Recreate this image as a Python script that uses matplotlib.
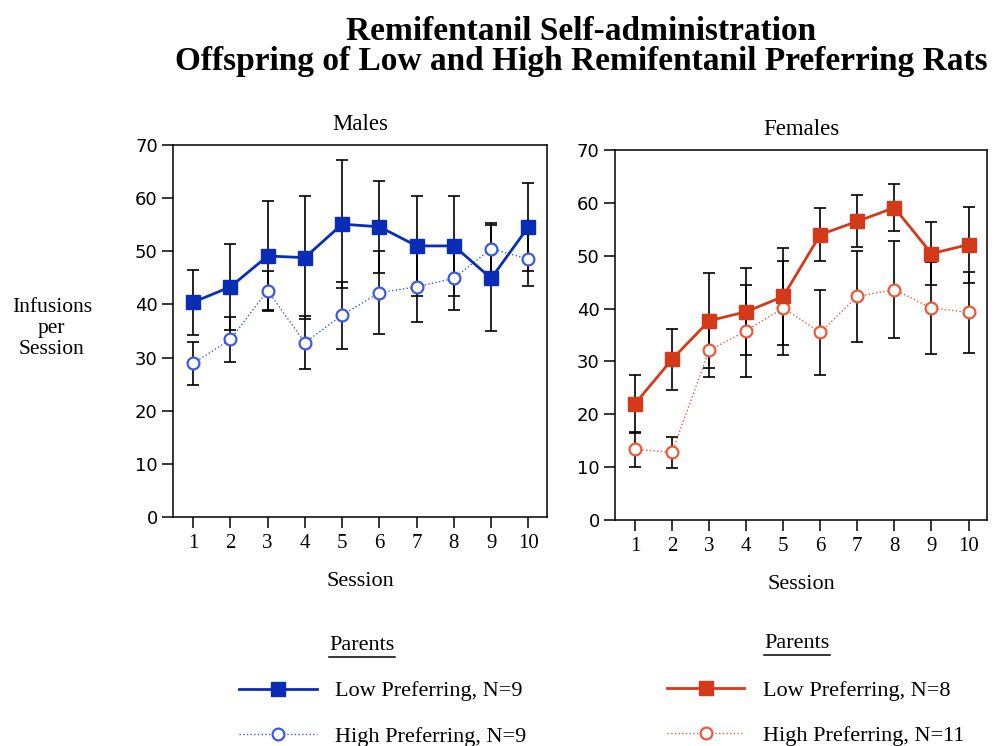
import numpy as np
import matplotlib
matplotlib.use("Agg")
from matplotlib import pyplot as plt
from matplotlib.lines import Line2D

plt.rcParams['font.family'] = ['Liberation Serif', 'DejaVu Serif']

sessions = np.arange(1, 11)

# males: mean infusions and SEM per session
male_low = [40.4, 43.3, 49.1, 48.8, 55.1, 54.6, 51.0, 51.0, 44.9, 54.6]
male_low_err = [6.1, 8.1, 10.3, 11.6, 12.0, 8.7, 9.4, 9.4, 10.0, 8.3]
male_high = [28.9, 33.4, 42.6, 32.8, 38.0, 42.2, 43.3, 44.9, 50.5, 48.5]
male_high_err = [4.1, 4.2, 3.6, 5.0, 6.3, 7.8, 6.6, 6.0, 4.8, 5.0]

# females
female_low = [22.0, 30.4, 37.7, 39.4, 42.3, 54.0, 56.5, 59.1, 50.4, 52.1]
female_low_err = [5.5, 5.8, 9.0, 8.2, 9.1, 5.0, 4.9, 4.5, 5.9, 7.2]
female_high = [13.4, 12.8, 32.1, 35.8, 40.1, 35.5, 42.3, 43.6, 40.1, 39.3]
female_high_err = [3.3, 3.0, 5.0, 8.7, 8.9, 8.1, 8.6, 9.1, 8.7, 7.7]

male_labels = ['Low Preferring, N=9', 'High Preferring, N=9']
female_labels = ['Low Preferring, N=8', 'High Preferring, N=11']

fig = plt.figure(figsize=(9.95, 7.46), dpi=100)
ax_m = fig.add_axes([0.1739, 0.3070, 0.3759, 0.4987])
ax_f = fig.add_axes([0.6181, 0.3029, 0.3739, 0.4960])


def panel(ax, title, low, low_err, high, high_err, c_low, c_high):
    ax.errorbar(sessions, low, yerr=low_err, fmt='none', ecolor='black',
                elinewidth=1.2, capsize=4.5, capthick=1.2, zorder=2)
    ax.errorbar(sessions, high, yerr=high_err, fmt='none', ecolor='black',
                elinewidth=1.2, capsize=4.5, capthick=1.2, zorder=2)
    l1, = ax.plot(sessions, low, color=c_low, lw=2.0, marker='s', ms=10,
                  mfc=c_low, mec=c_low, zorder=4)
    l2, = ax.plot(sessions, high, color=c_high, lw=1.0, ls=':', marker='o',
                  ms=8.5, mfc='white', mec=c_high, mew=1.6, zorder=3)
    ax.set_xlim(0.46, 10.5)
    ax.set_ylim(0, 70)
    ax.set_xticks(sessions)
    ax.set_yticks(range(0, 71, 10))
    ax.tick_params(direction='out', length=8, width=1.1,
                   top=False, right=False, colors='black')
    ax.tick_params(axis='x', labelsize=15, pad=4)
    ax.tick_params(axis='y', labelsize=13, pad=3)
    for lab in ax.get_yticklabels():
        lab.set_fontfamily('DejaVu Sans')
    for s in ax.spines.values():
        s.set_linewidth(1.1)
    ax.set_title(title, fontsize=16.5, pad=11)
    ax.set_xlabel('Session', fontsize=16, labelpad=14)
    return l1, l2


h_m = panel(ax_m, 'Males', male_low, male_low_err, male_high, male_high_err,
            '#0a2db8', '#3a5ae0')
h_f = panel(ax_f, 'Females', female_low, female_low_err, female_high,
            female_high_err, '#d43a1a', '#e85a3a')

fig.text(0.584, 0.947, 'Remifentanil Self-administration',
         ha='center', va='baseline', fontsize=24, fontweight='bold')
fig.text(0.584, 0.906, 'Offspring of Low and High Remifentanil Preferring Rats',
         ha='center', va='baseline', fontsize=24, fontweight='bold')

fig.text(0.052, 0.560, 'Infusions\nper\nSession', ha='center', va='center',
         fontsize=15.5, linespacing=1.15)

# legends under each panel
for x_title, y_title, x_leg, y_leg, handles, labels in [
        (0.364, 0.135, 0.240, 0.043, h_m, male_labels),
        (0.801, 0.137, 0.670, 0.044, h_f, female_labels)]:
    fig.text(x_title, y_title, 'Parents', ha='center', va='center',
             fontsize=16)
    fig.add_artist(Line2D([x_title - 0.033, x_title + 0.033],
                          [y_title - 0.0155, y_title - 0.0155],
                          color='black', lw=1.1, transform=fig.transFigure))
    fig.legend(handles, labels, loc='center left',
               bbox_to_anchor=(x_leg, y_leg), frameon=False, fontsize=16,
               handlelength=3.5, handletextpad=0.85, labelspacing=1.12,
               borderpad=0, borderaxespad=0)

fig.savefig('out.png', dpi=100)
